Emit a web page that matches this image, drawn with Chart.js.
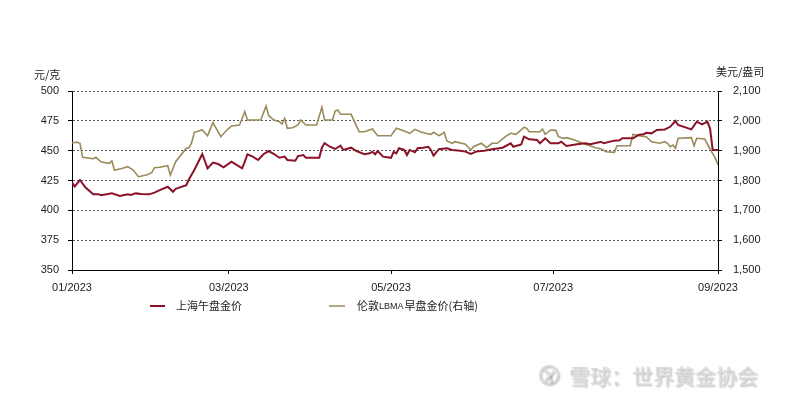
<!DOCTYPE html>
<html>
<head>
<meta charset="utf-8">
<script src="https://cdn.jsdelivr.net/npm/chart.js@4.4.0/dist/chart.umd.min.js"></script>
<style>
  html, body { margin: 0; padding: 0; background: #fff; }
  #wrap { width: 800px; height: 400px; position: relative; }
</style>
</head>
<body>
<div id="wrap"><canvas id="goldChart" width="800" height="400"></canvas></div>
<script>
// jours depuis le 01/01/2023
const xTickDays = [0, 59, 120, 181, 243];
const xTickLabels = ['01/2023', '03/2023', '05/2023', '07/2023', '09/2023'];

// 上海午盘金价 (元/克, axe gauche)
const shDays = [0, 1, 3, 5, 8, 10, 11, 13, 15, 18, 21, 22, 24, 26, 29, 31, 33, 36, 38, 39, 43, 44, 46, 49, 51, 53, 55, 57,
  60, 61, 64, 65, 66, 68, 70, 72, 74, 76, 78, 80, 81, 84, 85, 87, 88, 93, 94, 95, 97, 99, 101, 102, 105, 107, 110, 112,
  113, 114, 115, 117, 120, 121, 122, 123, 125, 126, 127, 129, 130, 132, 134, 135, 136, 138, 141, 143, 146, 148, 150, 152,
  155, 158, 162, 165, 166, 169, 170, 172, 175, 176, 178, 180, 183, 184, 186, 190, 193, 195, 199, 200, 204, 206, 207, 211,
  213, 215, 216, 218, 220, 223, 225, 227, 228, 233, 235, 237, 239, 240, 241, 243];
const shPrice = [423.5, 420, 425.4, 419.3, 413.4, 413.4, 412.6, 413.4, 414.2, 412, 413.4, 412.8, 414.2, 413.7, 413.4, 414.8, 417, 419.8, 415.6, 418, 421, 426, 433.8, 447.2, 435.2, 440, 438.8, 436,
  440.8, 439.4, 435.2, 440.8, 447, 445, 442.2, 447, 449.7, 447.2, 444.1, 445, 442.2, 441.6, 445.5, 446.3, 444.1, 444.1, 452.5, 456.2, 453.3, 451.4, 454.2, 450.6, 452.5, 449.7, 447, 447.8,
  449.1, 447, 449.7, 445, 444, 449, 447.8, 452, 450.6, 446.3, 450.6, 448.6, 452, 452.5, 453.3, 450.6, 445.8, 451.2, 452, 450.6, 450, 449.2, 447.2, 449.2,
  450, 451.2, 452.5, 456.2, 453.3, 455.3, 461.7, 459.5, 458.9, 456.2, 460.4, 456.2, 456.2, 457.5, 453.9, 455.3, 456.2, 455.3, 457.5, 456.2, 458.4, 458.7, 460.4, 460.4,
  463.1, 463.7, 465, 464.5, 467.3, 467.8, 470, 474.9, 471.5, 467.8, 474.3, 472.1, 474.3, 468.7, 450.6, 450.6];

// 伦敦LBMA早盘金价 (美元/盎司, axe droit)
const ldDays = [0, 2, 3, 4, 8, 9, 11, 14, 15, 16, 19, 21, 23, 25, 28, 30, 31, 33, 36, 37, 39, 43, 44, 45, 46, 49, 51, 53, 56, 58,
  60, 63, 65, 66, 71, 73, 74, 76, 78, 79, 80, 81, 83, 85, 86, 88, 92, 94, 95, 98, 99, 100, 101, 105, 108, 110, 113, 115,
  120, 122, 125, 127, 129, 131, 133, 135, 136, 138, 139, 140, 141, 143, 144, 148, 150, 151, 154, 156, 158, 160, 163, 165,
  167, 170, 171, 172, 176, 177, 178, 180, 182, 183, 185, 186, 189, 192, 197, 199, 201, 204, 205, 210, 211, 213, 216, 218,
  221, 223, 224, 225, 226, 227, 228, 233, 234, 235, 238, 240, 241, 242, 243];
const ldPrice = [1926.7, 1928, 1924.7, 1877.8, 1873, 1877.8, 1862, 1857.6, 1865.4, 1834.2, 1840.9, 1846.3, 1835.2, 1812.7, 1818.4, 1826.2, 1842.9, 1844.3, 1849.6, 1818.4, 1863, 1907.9, 1910, 1926.7, 1961.6, 1969.3, 1950.2, 1993.8, 1946.9, 1966.9,
  1982.7, 1986, 2030.6, 2002.8, 2002.8, 2049.7, 2017.2, 2002.8, 1997.1, 1989.4, 2008.5, 1975, 1977, 1986, 2002.8, 1986, 1986, 2045.4, 2002.8, 2002.8, 2033, 2036.3, 2021.9, 2021.9, 1963.6, 1963.6, 1972.6, 1950.2,
  1950.2, 1975, 1966, 1958.2, 1971.6, 1963.6, 1958.2, 1954.9, 1961.6, 1950.2, 1954.9, 1961.6, 1932.4, 1924.7, 1930, 1921.4, 1902.2, 1913.3, 1924.7, 1910, 1924.7, 1924.7, 1946.9, 1958.2,
  1954.9, 1978.3, 1975, 1963.6, 1963.6, 1972.6, 1954.9, 1969.3, 1968, 1946.9, 1941.4, 1943.6, 1935.8, 1924.7, 1910, 1905.6, 1896.5, 1894.5, 1916.6, 1916.6, 1954.9, 1950.2, 1946.9, 1930,
  1924.7, 1930, 1924.7, 1913.3, 1919, 1908, 1941.4, 1943.6, 1916.6, 1941.4, 1939.1, 1905.6, 1890, 1875, 1852];

const RED = '#8a1327';
const GOLD = '#9a8a5a';
const FONT = "'Liberation Sans', 'Noto Sans CJK SC', sans-serif";

// Titres d'axes, légende et filigrane dessinés à la main
const decorPlugin = {
    id: 'decor',
    afterDraw(chart) {
        const ctx = chart.ctx;
        ctx.save();
        ctx.fillStyle = '#222';
        ctx.textBaseline = 'middle';
        ctx.font = "11px 'Noto Sans CJK SC', sans-serif";
        ctx.textAlign = 'left';
        ctx.fillText('元/克', 34, 75);
        ctx.fillText('美元/盎司', 716, 72);

        // légende
        ctx.lineWidth = 2;
        ctx.strokeStyle = RED;
        ctx.beginPath(); ctx.moveTo(150, 306); ctx.lineTo(165, 306); ctx.stroke();
        ctx.lineWidth = 1.5;
        ctx.strokeStyle = GOLD;
        ctx.beginPath(); ctx.moveTo(329, 306); ctx.lineTo(345, 306); ctx.stroke();
        ctx.fillText('上海午盘金价', 176, 306);
        let x = 357;
        ctx.fillText('伦敦', x, 306); x += ctx.measureText('伦敦').width;
        ctx.font = "9px " + FONT;
        ctx.fillText('LBMA', x, 306.5); x += ctx.measureText('LBMA').width + 1;
        ctx.font = "11px 'Noto Sans CJK SC', sans-serif";
        ctx.fillText('早盘金价(右轴)', x, 306);

        // filigrane
        ctx.shadowColor = 'rgba(0,0,0,0.3)';
        ctx.shadowBlur = 2;
        ctx.shadowOffsetX = 1;
        ctx.shadowOffsetY = 1;
        ctx.fillStyle = '#dcdcdc';
        ctx.strokeStyle = '#dadada';
        ctx.lineWidth = 2;
        ctx.beginPath(); ctx.arc(549, 375, 9, 0, Math.PI * 2); ctx.stroke();
        ctx.beginPath(); ctx.moveTo(544, 370); ctx.quadraticCurveTo(552, 374, 551, 383); ctx.stroke();
        ctx.beginPath(); ctx.moveTo(545, 381); ctx.lineTo(554, 371); ctx.stroke();
        ctx.font = "21px 'Noto Sans CJK SC', sans-serif";
        ctx.fillText('雪球：世界黄金协会', 569, 376);
        ctx.restore();
    }
};

const ctx = document.getElementById('goldChart').getContext('2d');
const goldChart = new Chart(ctx, {
    type: 'line',
    data: {
        datasets: [{
            label: '上海午盘金价',
            data: shDays.map((d, i) => ({ x: d, y: shPrice[i] })),
            borderColor: RED,
            borderWidth: 2,
            pointRadius: 0,
            tension: 0,
            yAxisID: 'y'
        }, {
            label: '伦敦LBMA早盘金价(右轴)',
            data: ldDays.map((d, i) => ({ x: d, y: ldPrice[i] })),
            borderColor: GOLD,
            borderWidth: 1.6,
            pointRadius: 0,
            tension: 0,
            yAxisID: 'y1'
        }]
    },
    options: {
        responsive: false,
        animation: false,
        devicePixelRatio: 1,
        layout: { padding: { top: 91, left: 0, right: 0, bottom: 0 } },
        plugins: { legend: { display: false }, tooltip: { enabled: false } },
        scales: {
            x: {
                type: 'linear',
                min: 0,
                max: 243,
                afterBuildTicks: s => { s.ticks = xTickDays.map(v => ({ value: v })); },
                afterFit: s => { s.height = 130; },
                ticks: {
                    autoSkip: false,
                    maxRotation: 0,
                    padding: 7,
                    color: '#222',
                    font: { family: FONT, size: 11 },
                    callback: v => xTickLabels[xTickDays.indexOf(v)]
                },
                grid: { drawOnChartArea: false, tickLength: 4, tickColor: '#000' },
                border: { color: '#000', width: 1 }
            },
            y: {
                position: 'left',
                min: 350,
                max: 500,
                afterBuildTicks: s => { s.ticks = [350, 375, 400, 425, 450, 475, 500].map(v => ({ value: v })); },
                afterFit: s => { s.width = 72; },
                ticks: { padding: 9, color: '#222', font: { family: FONT, size: 11 } },
                grid: { color: '#555', lineWidth: 1, tickLength: 4, tickColor: '#000', tickBorderDash: [] },
                border: { color: '#000', width: 1, dash: [2, 2] }
            },
            y1: {
                position: 'right',
                min: 1500,
                max: 2100,
                afterBuildTicks: s => { s.ticks = [1500, 1600, 1700, 1800, 1900, 2000, 2100].map(v => ({ value: v })); },
                afterFit: s => { s.width = 82; },
                ticks: {
                    padding: 11,
                    color: '#222',
                    font: { family: FONT, size: 11 },
                    callback: v => v.toLocaleString('en-US')
                },
                grid: { drawOnChartArea: false, tickLength: 4, tickColor: '#000' },
                border: { color: '#000', width: 1 }
            }
        }
    },
    plugins: [decorPlugin]
});
</script>
</body>
</html>
